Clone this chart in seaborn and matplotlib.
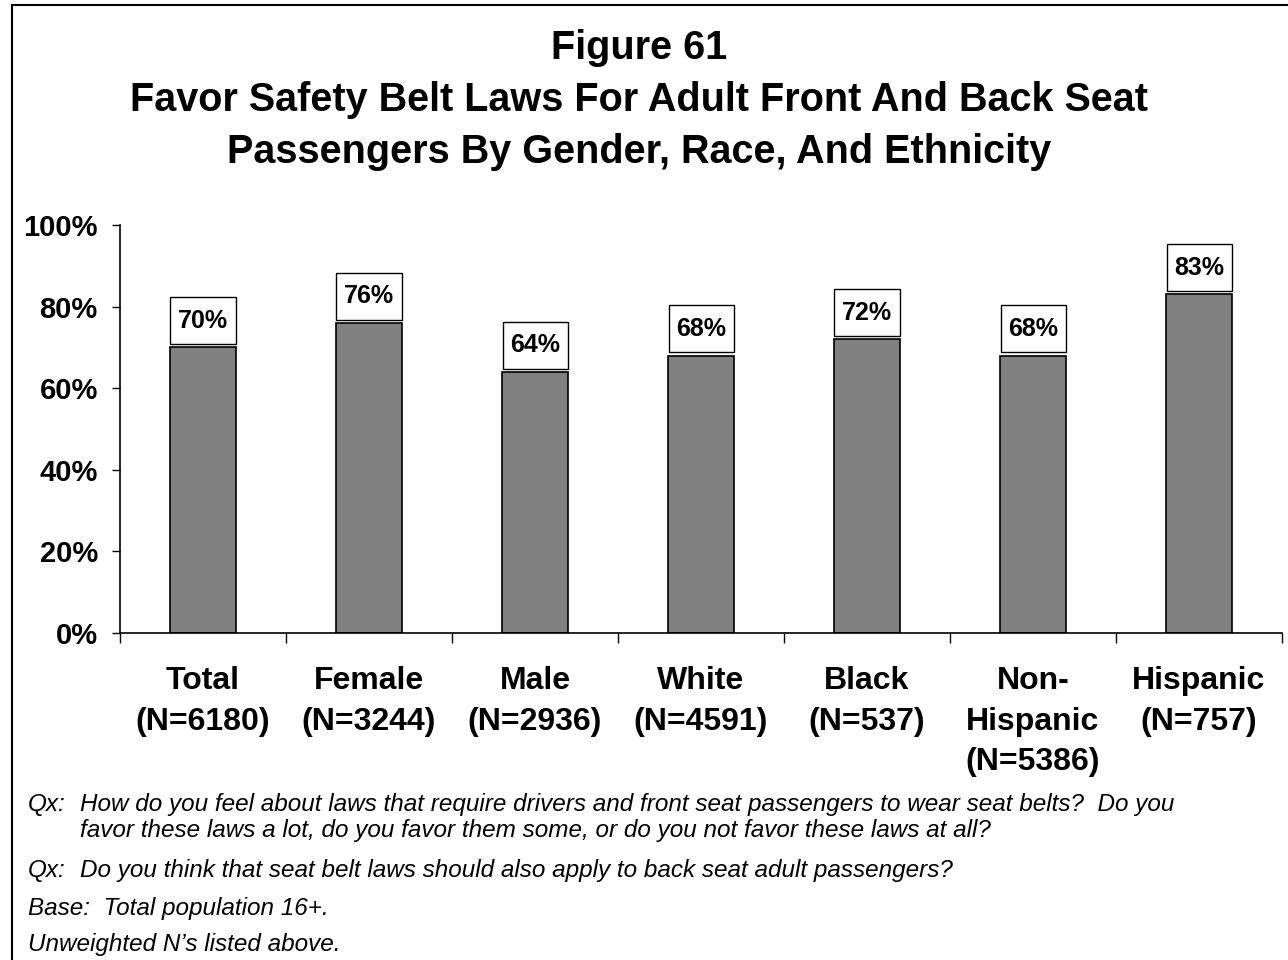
import matplotlib
matplotlib.use("Agg")
import matplotlib.pyplot as plt
import seaborn as sns
import numpy as np
from matplotlib.lines import Line2D
from matplotlib.path import Path

groups = ["Total\n(N=6180)", "Female\n(N=3244)", "Male\n(N=2936)", "White\n(N=4591)",
          "Black\n(N=537)", "Non-\nHispanic\n(N=5386)", "Hispanic\n(N=757)"]
favor = [70, 76, 64, 68, 72, 68, 83]
yticks = [0, 20, 40, 60, 80, 100]

title = "Figure 61\nFavor Safety Belt Laws For Adult Front And Back Seat\nPassengers By Gender, Race, And Ethnicity"
notes = [
    ("Qx:", "How do you feel about laws that require drivers and front seat passengers to wear seat belts?  Do you",
     "favor these laws a lot, do you favor them some, or do you not favor these laws at all?"),
    ("Qx:", "Do you think that seat belt laws should also apply to back seat adult passengers?", ""),
    ("Base:  Total population 16+.", "", ""),
    ("Unweighted N\u2019s listed above.", "", ""),
]

sns.set_style("white")
plt.rcParams['font.family'] = ['Liberation Sans', 'DejaVu Sans']
plt.rcParams['text.color'] = 'black'
plt.rcParams['xtick.color'] = 'black'
plt.rcParams['ytick.color'] = 'black'
plt.rcParams['axes.labelcolor'] = 'black'


# label box: a bit more padding top/bottom than left/right
def tallbox(x0, y0, width, height, mutation_size):
    px = 0.3 * mutation_size
    py = 0.46 * mutation_size
    x0, y0 = x0 - px, y0 - py
    x1, y1 = x0 + width + 2 * px, y0 + height + 2 * py
    return Path([(x0, y0), (x1, y0), (x1, y1), (x0, y1), (x0, y0)], closed=True)


fig = plt.figure(figsize=(12.88, 9.6), dpi=100)
ax = fig.add_axes([120 / 1288, 1 - 633 / 960, (1282 - 120) / 1288, (633 - 225) / 960])

sns.barplot(x=groups, y=favor, color="#808080", saturation=1, width=0.4,
            edgecolor="black", linewidth=1.2, ax=ax)

for i, v in enumerate(favor):
    ax.annotate(f"{v}%", xy=(i, v), xytext=(0, 10.5), textcoords="offset points",
                ha="center", va="bottom", fontsize=18, fontweight="bold",
                bbox=dict(boxstyle=tallbox, fc="white", ec="black", lw=1.0))

ax.set_xlim(-0.5, len(groups) - 0.5)
ax.set_ylim(0, 100)
ax.set_yticks(yticks)
ax.set_yticklabels([f"{t}%" for t in yticks], fontsize=21, fontweight="bold")
ax.tick_params(axis="y", direction="out", length=6, width=1, left=True, pad=10)
ax.tick_params(axis="x", which="major", length=0, pad=24, labelsize=23)
for lab in ax.get_xticklabels():
    lab.set_fontweight("bold")
    lab.set_linespacing(1.45)
ax.set_xticks(np.arange(-0.5, len(groups), 1.0), minor=True)
ax.tick_params(axis="x", which="minor", direction="out", length=7, width=1, bottom=True)
ax.set_xlabel("")
ax.set_ylabel("")
for s in ["top", "right"]:
    ax.spines[s].set_visible(False)
for s in ["left", "bottom"]:
    ax.spines[s].set_color("black")
    ax.spines[s].set_linewidth(1.2)

fig.text(0.496, 1 - 100 / 960, title, ha="center", va="center", fontsize=28.5,
         fontweight="bold", linespacing=1.48)

# footnotes
ys = [805, 871, 908, 945]
for (a, b, c), y in zip(notes, ys):
    fig.text(28 / 1288, 1 - y / 960, a, ha="left", va="center", fontsize=17.5, style="italic")
    if b:
        fig.text(80 / 1288, 1 - y / 960, b, ha="left", va="center", fontsize=17.5, style="italic")
    if c:
        fig.text(80 / 1288, 1 - (y + 26) / 960, c, ha="left", va="center", fontsize=17.5, style="italic")

# outer frame (left and top edges visible)
fig.add_artist(Line2D([12 / 1288, 12 / 1288], [0, 1 - 5 / 960], color="black", lw=1.5))
fig.add_artist(Line2D([12 / 1288, 1], [1 - 5 / 960, 1 - 5 / 960], color="black", lw=1.5))

fig.savefig("out.png", dpi=100, facecolor="white")
